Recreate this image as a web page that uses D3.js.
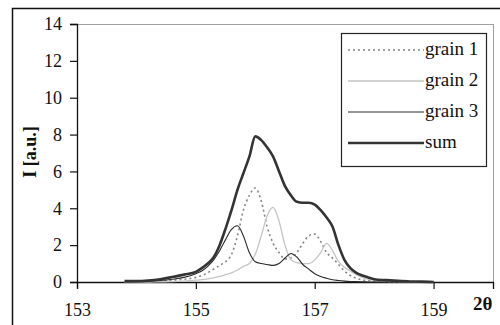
<!DOCTYPE html>
<meta charset="utf-8">
<style>
body { margin: 0; background: #fff; }
</style>
<svg id="chart" width="500" height="325"></svg>
<script src="https://d3js.org/d3.v7.min.js"></script>
<script>

// 2-theta sample positions
var theta = [153.8, 154.0, 154.2, 154.4, 154.6, 154.8, 155.0, 155.1, 155.2, 155.3,
             155.4, 155.5, 155.6, 155.7, 155.8, 155.9, 156.0, 156.1, 156.2, 156.3,
             156.4, 156.5, 156.6, 156.7, 156.8, 156.9, 157.0, 157.1, 157.2, 157.3,
             157.4, 157.5, 157.6, 157.7, 157.8, 157.9, 158.0, 158.2, 158.4, 158.6,
             158.8, 159.0];

var grain1 = [0, 0, 0.02, 0.05, 0.1, 0.15, 0.25, 0.35, 0.5, 0.7,
              0.9, 1.1, 1.5, 2.5, 3.9, 4.7, 5.1, 4.4, 3.0, 2.1,
              1.6, 1.25, 1.3, 1.6, 2.1, 2.5, 2.6, 2.2, 1.6, 1.3,
              0.95, 0.6, 0.35, 0.2, 0.12, 0.08, 0.05, 0.02, 0, 0,
              0, 0];

var grain2 = [0, 0, 0, 0.01, 0.02, 0.05, 0.1, 0.13, 0.17, 0.22,
              0.3, 0.4, 0.5, 0.65, 0.85, 1.0, 1.5, 2.5, 3.6, 4.05,
              3.3, 2.0, 1.2, 1.05, 1.0, 1.0, 1.2, 1.6, 2.1, 1.7,
              1.1, 0.8, 0.6, 0.4, 0.25, 0.15, 0.1, 0.04, 0.02, 0,
              0, 0];

var grain3 = [0, 0.01, 0.03, 0.08, 0.15, 0.25, 0.45, 0.6, 0.85, 1.2,
              1.7, 2.3, 2.85, 3.05, 2.5, 1.6, 1.1, 1.0, 0.95, 0.9,
              1.0, 1.3, 1.55, 1.35, 0.95, 0.7, 0.45, 0.3, 0.2, 0.12,
              0.08, 0.05, 0.03, 0.02, 0.01, 0, 0, 0, 0, 0,
              0, 0];

var sum = [0.05, 0.05, 0.08, 0.15, 0.27, 0.4, 0.55, 0.75, 1.0, 1.35,
           2.0, 2.9, 3.9, 5.0, 5.9, 6.8, 7.9, 7.7, 7.3, 6.8,
           6.0, 5.2, 4.7, 4.35, 4.3, 4.3, 4.2, 3.9, 3.5, 3.0,
           2.0, 1.2, 0.75, 0.5, 0.35, 0.25, 0.15, 0.1, 0.06, 0.03,
           0.02, 0];

var xTicks = [153, 155, 157, 159],
    yTicks = [0, 2, 4, 6, 8, 10, 12, 14];

var seriesNames = ["grain 1", "grain 2", "grain 3", "sum"];
var seriesValues = [grain1, grain2, grain3, sum];
var seriesStyle = [
  {stroke: "#858585", width: 1.6, dash: "2,3"},
  {stroke: "#c4c4c4", width: 1.3, dash: null},
  {stroke: "#2a2a2a", width: 1.1, dash: null},
  {stroke: "#333333", width: 2.6, dash: null}
];

var serif = "'Liberation Serif', 'Times New Roman', Times, serif";

var svg = d3.select("svg"),
    margin = {top: 24, right: 7, bottom: 43, left: 77},
    width = +svg.attr("width") - margin.left - margin.right,
    height = +svg.attr("height") - margin.top - margin.bottom;

// outer chart frame
svg.append("rect")
    .attr("x", 12.5).attr("y", 8.5)
    .attr("width", 600).attr("height", 400)
    .attr("fill", "none")
    .attr("stroke", "#111")
    .attr("stroke-width", 1.5);

var g = svg.append("g").attr("transform", "translate(" + margin.left + "," + margin.top + ")");

var x = d3.scaleLinear().domain([153, 160]).range([0, width]);
var y = d3.scaleLinear().domain([0, 14]).range([height, 0]);

// plot area border
g.append("rect")
    .attr("x", 0.5).attr("y", 0.5)
    .attr("width", width).attr("height", height)
    .attr("fill", "none")
    .attr("stroke", "#a0a0a0");

var xAxis = g.append("g")
    .attr("transform", "translate(0," + height + ")")
    .call(d3.axisBottom(x).tickValues(xTicks).tickSize(7).tickPadding(14).tickFormat(d3.format("d")));

var yAxis = g.append("g")
    .call(d3.axisLeft(y).tickValues(yTicks).tickSize(7).tickPadding(8));

[xAxis, yAxis].forEach(function(a) {
  a.attr("font-family", serif).attr("font-size", 18);
  a.select(".domain").attr("stroke", "#111").attr("stroke-width", 1.3);
  a.selectAll(".tick line").attr("stroke", "#111").attr("stroke-width", 1.2);
  a.selectAll("text").attr("fill", "#111");
});

var line = d3.line()
    .x(function(d) { return x(d[0]); })
    .y(function(d) { return y(d[1]); })
    .curve(d3.curveMonotoneX);

seriesValues.forEach(function(vals, i) {
  var st = seriesStyle[i];
  g.append("path")
      .datum(theta.map(function(t, j) { return [t, vals[j]]; }))
      .attr("fill", "none")
      .attr("stroke", st.stroke)
      .attr("stroke-width", st.width)
      .attr("stroke-dasharray", st.dash)
      .attr("stroke-linejoin", "round")
      .attr("d", line);
});

// axis titles
svg.append("text")
    .attr("x", 473).attr("y", 310)
    .attr("font-family", serif).attr("font-size", 19).attr("font-weight", "bold")
    .attr("fill", "#111")
    .text("2θ");

svg.append("text")
    .attr("transform", "translate(36,152) rotate(-90)")
    .attr("text-anchor", "middle")
    .attr("font-family", serif).attr("font-size", 18).attr("font-weight", "bold")
    .attr("fill", "#111")
    .text("I [a.u.]");

// legend
var legend = svg.append("g").attr("transform", "translate(341,33)");
legend.append("rect")
    .attr("x", 0.5).attr("y", 0.5)
    .attr("width", 145).attr("height", 133)
    .attr("fill", "#fff")
    .attr("stroke", "#222")
    .attr("stroke-width", 1.2);

var item = legend.selectAll(".item")
  .data(seriesNames)
  .enter().append("g")
    .attr("transform", function(d, i) { return "translate(0," + (17 + i * 31) + ")"; });

item.append("line")
    .attr("x1", 7).attr("x2", 83)
    .attr("stroke", function(d, i) { return seriesStyle[i].stroke; })
    .attr("stroke-width", function(d, i) { return seriesStyle[i].width; })
    .attr("stroke-dasharray", function(d, i) { return seriesStyle[i].dash; });

item.append("text")
    .attr("x", 84).attr("y", 5)
    .attr("font-family", serif).attr("font-size", 19)
    .attr("fill", "#111")
    .text(function(d) { return d; });

</script>
